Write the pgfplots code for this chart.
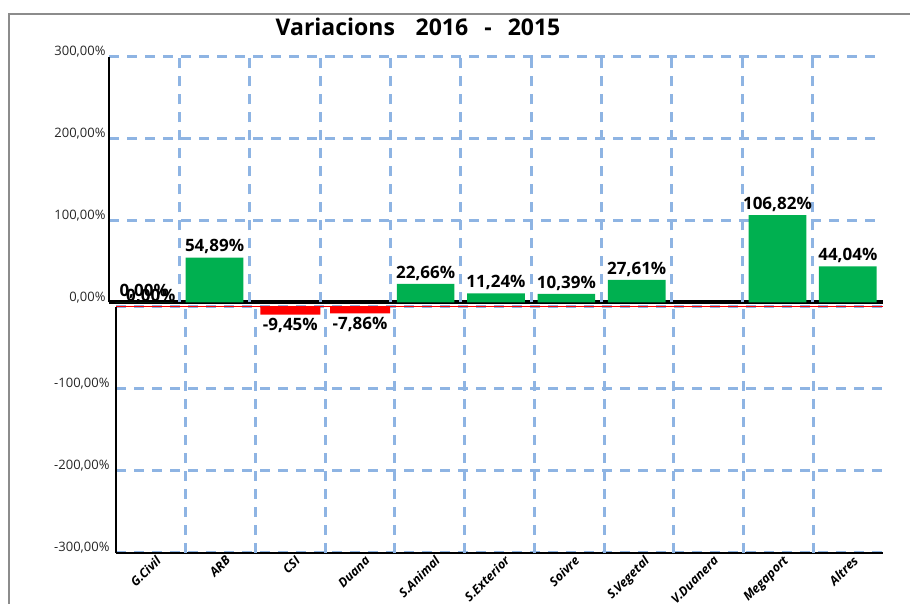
\documentclass[border=0pt]{standalone}
\usepackage{pgfplots}
\pgfplotsset{compat=1.18}
\usepackage{pgfplotstable}
\usepackage{fontspec}
\setmainfont{Open Sans}

\definecolor{barGreen}{HTML}{00B050}
\definecolor{barRed}{HTML}{FF0000}
\definecolor{gridBlue}{HTML}{8EB4E3}
\definecolor{frameGray}{HTML}{8C8C8C}

% positive side (upper chart)
\pgfplotstableread{
x y
0 0
1 54.89
4 22.66
5 11.24
6 10.39
7 27.61
9 106.82
10 44.04
}\upperdata

% negative side (lower chart)
\pgfplotstableread{
x y
0 0
2 -9.45
3 -7.86
}\lowerdata

\pgfplotsset{
  pctlabel/.style={
    nodes near coords={\pgfmathprintnumber[fixed,fixed zerofill,precision=2,use comma,assume math mode=true]{\pgfplotspointmeta}\%},
    every node near coord/.append style={font=\bfseries\fontsize{17}{17}\selectfont, text=black},
  },
}

\begin{document}
\begin{tikzpicture}
\useasboundingbox (0,0) rectangle (910pt,604pt);
\draw[frameGray, line width=2.5pt] (9pt,-10pt) -- (9pt,590pt) -- (930pt,590pt);

\node[font=\bfseries\fontsize{23}{23}\selectfont] at (418pt,577pt)
  {Variacions\hspace{0.9em}2016\hspace{0.7em}-\hspace{0.7em}2015};

% upper chart
\begin{axis}[
  scale only axis,
  at={(109pt,301.5pt)}, anchor=south west,
  width=774pt, height=245.5pt,
  xmin=-0.5, xmax=10.5, ymin=0, ymax=300,
  ymajorgrids,
  major grid style={gridBlue, line width=3pt, dash pattern=on 10pt off 8pt},
  axis lines=left,
  axis line style={-, black, line width=1.6pt},
  x axis line style={line width=4pt},
  major tick length=0pt,
  ytick={0,100,200,300},
  yticklabels={{0,00\%},{100,00\%},{200,00\%},{300,00\%}},
  yticklabel style={font=\fontsize{13}{13}\selectfont, text=black!85, yshift=5pt},
  xtick=\empty,
  extra x ticks={0.5,1.5,2.5,3.5,4.5,5.5,6.5,7.5,8.5,9.5},
  extra x tick labels={},
  extra x tick style={grid=major},
  clip=false,
]
\addplot[ybar, fill=barGreen, draw=none, bar width=0.82, pctlabel]
  table[x=x, y=y] {\upperdata};
\end{axis}

% lower chart
\begin{axis}[
  scale only axis,
  at={(116pt,297pt)}, anchor=north west,
  width=767pt, height=246pt,
  xmin=-0.5, xmax=10.5, ymin=-300, ymax=0,
  ymajorgrids,
  major grid style={gridBlue, line width=3pt, dash pattern=on 10pt off 8pt},
  axis lines=left,
  axis line style={-, black, line width=1.6pt},
  major tick length=0pt,
  ytick={-300,-200,-100,0},
  yticklabels={{-300,00\%},{-200,00\%},{-100,00\%},{}},
  yticklabel style={font=\fontsize{13}{13}\selectfont, text=black!85, yshift=5pt, xshift=-3pt},
  xtick={0,...,10},
  xticklabels={G.Civil,ARB,CSI,Duana,S.Animal,S.Exterior,Soivre,S.Vegetal,V.Duanera,Megaport,Altres},
  xticklabel style={rotate=45, anchor=north east, font=\bfseries\itshape\fontsize{12.5}{12.5}\selectfont, xshift=5pt, yshift=-1pt},
  extra x ticks={0.5,1.5,2.5,3.5,4.5,5.5,6.5,7.5,8.5,9.5},
  extra x tick labels={},
  extra x tick style={grid=major},
  clip=false,
]
\draw[barRed, line width=1pt] (rel axis cs:0,1) -- (rel axis cs:1,1);
\addplot[ybar, fill=barRed, draw=none, bar width=0.86, pctlabel]
  table[x=x, y=y] {\lowerdata};
\end{axis}
\end{tikzpicture}
\end{document}
